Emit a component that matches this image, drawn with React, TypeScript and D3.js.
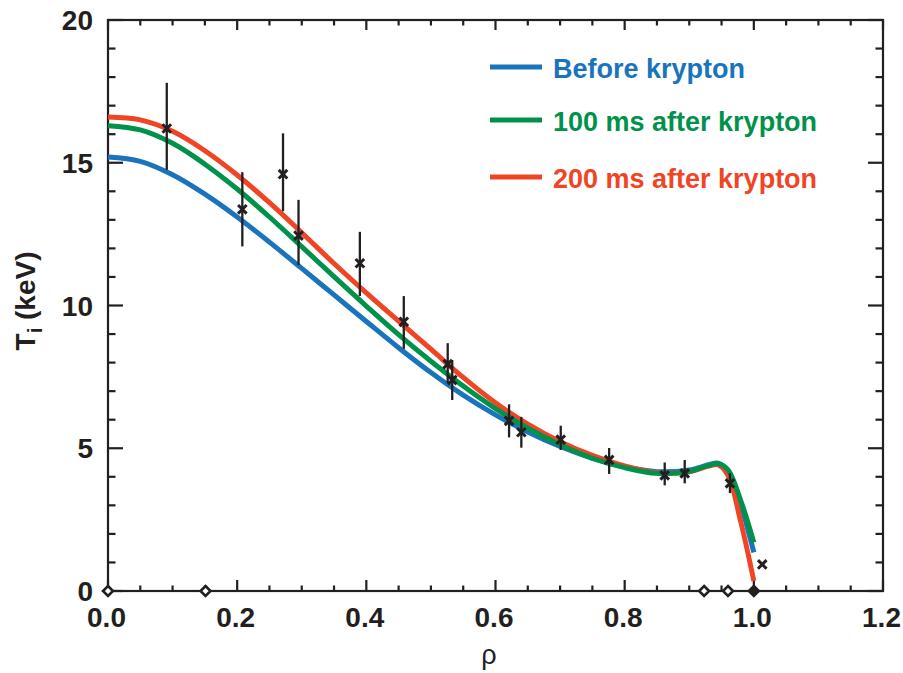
import React from "react";
import * as d3 from "d3";

// Radial grid (normalised minor radius) shared by the three fitted profiles
const rhoGrid = [0, 0.05, 0.1, 0.15, 0.2, 0.25, 0.3, 0.35, 0.4, 0.45, 0.5, 0.55, 0.6, 0.65, 0.7, 0.75, 0.8, 0.85, 0.9, 0.93, 0.945, 0.96, 0.98, 1.0];

// Ion temperature profiles, keV
const tiBefore = [15.2, 15.05, 14.58, 13.9, 13.1, 12.22, 11.3, 10.37, 9.44, 8.52, 7.65, 6.86, 6.17, 5.57, 5.06, 4.65, 4.35, 4.18, 4.24, 4.42, 4.48, 4.2, 3.0, 1.35];
const tiAfter100 = [16.3, 16.15, 15.68, 14.95, 14.08, 13.1, 12.06, 11.01, 9.98, 8.98, 8.05, 7.18, 6.39, 5.7, 5.12, 4.65, 4.32, 4.12, 4.19, 4.4, 4.46, 4.24, 3.15, 1.7];
const tiAfter200 = [16.6, 16.5, 16.1, 15.42, 14.57, 13.6, 12.55, 11.47, 10.44, 9.45, 8.47, 7.48, 6.59, 5.84, 5.23, 4.75, 4.38, 4.14, 4.18, 4.38, 4.42, 4.05, 2.4, 0.35];

// Measured ion temperatures with error bars
const measRho = [0.091, 0.208, 0.271, 0.295, 0.39, 0.458, 0.526, 0.533, 0.621, 0.64, 0.701, 0.776, 0.862, 0.893, 0.963, 1.013];
const measTi = [16.2, 13.37, 14.6, 12.45, 11.48, 9.43, 7.95, 7.39, 5.96, 5.56, 5.3, 4.59, 4.05, 4.12, 3.77, 0.93];
const measErrUp = [1.6, 1.3, 1.43, 1.25, 1.1, 0.9, 0.73, 0.7, 0.58, 0.54, 0.49, 0.42, 0.45, 0.47, 0.36, 0];
const measErrDown = [1.45, 1.3, 1.3, 1.03, 1.15, 0.95, 0.67, 0.7, 0.58, 0.54, 0.36, 0.49, 0.35, 0.35, 0.34, 0];

// Diagnostic channel positions marked on the axis
const channelRho = [0, 0.151, 0.923, 0.96, 1.0];
const channelFilled = [false, false, false, false, true];

const xMajor = [0, 0.2, 0.4, 0.6, 0.8, 1.0, 1.2];
const xMajorLabels = ["0.0", "0.2", "0.4", "0.6", "0.8", "1.0", "1.2"];
const yMajor = [0, 5, 10, 15, 20];
const yMajorLabels = ["0", "5", "10", "15", "20"];

const seriesNames = ["Before krypton", "100 ms after krypton", "200 ms after krypton"];
const seriesColors = ["#1a74bd", "#00924a", "#ef4525"];

const W = 903;
const H = 673;
const left = 108;
const right = 883;
const top = 20;
const bottom = 591;

const FONT = "'Liberation Sans', Arial, Helvetica, sans-serif";

export default function App() {
  const x = d3.scaleLinear().domain([0, 1.2]).range([left, right]);
  const y = d3.scaleLinear().domain([0, 20]).range([bottom, top]);

  const line = d3
    .line<[number, number]>()
    .x((d) => x(d[0]))
    .y((d) => y(d[1]))
    .curve(d3.curveCatmullRom.alpha(0.5));

  const profiles = [tiBefore, tiAfter100, tiAfter200];
  const drawOrder = [0, 2, 1];

  const xMinor = d3.range(0, 1.2001, 0.05).filter((v) => Math.abs(v / 0.2 - Math.round(v / 0.2)) > 1e-6);
  const yMinor = d3.range(0, 20.001, 1).filter((v) => v % 5 !== 0);

  const axisColor = "#231f20";

  return (
    <svg width={W} height={H} style={{ position: "absolute", left: 0, top: 0, background: "#fff" }}>
      <rect x={0} y={0} width={W} height={H} fill="#fff" />

      {/* frame */}
      <rect x={left} y={top} width={right - left} height={bottom - top} fill="none" stroke={axisColor} strokeWidth={2.2} />

      {/* bottom and top ticks */}
      {xMajor.map((v) => (
        <g key={"xm" + v}>
          <line x1={x(v)} x2={x(v)} y1={bottom} y2={bottom - 11} stroke={axisColor} strokeWidth={2.2} />
          <line x1={x(v)} x2={x(v)} y1={top} y2={top + 10} stroke={axisColor} strokeWidth={2.2} />
        </g>
      ))}
      {xMinor.map((v) => (
        <g key={"xn" + v}>
          <line x1={x(v)} x2={x(v)} y1={bottom} y2={bottom - 5.5} stroke={axisColor} strokeWidth={2.2} />
          <line x1={x(v)} x2={x(v)} y1={top} y2={top + 5.5} stroke={axisColor} strokeWidth={2.2} />
        </g>
      ))}

      {/* left and right ticks */}
      {yMajor.map((v) => (
        <g key={"ym" + v}>
          <line x1={left} x2={left + 15} y1={y(v)} y2={y(v)} stroke={axisColor} strokeWidth={2.2} />
          <line x1={right} x2={right - 15} y1={y(v)} y2={y(v)} stroke={axisColor} strokeWidth={2.2} />
        </g>
      ))}
      {yMinor.map((v) => (
        <g key={"yn" + v}>
          <line x1={left} x2={left + 7.5} y1={y(v)} y2={y(v)} stroke={axisColor} strokeWidth={2.2} />
          <line x1={right} x2={right - 7.5} y1={y(v)} y2={y(v)} stroke={axisColor} strokeWidth={2.2} />
        </g>
      ))}

      {/* tick labels */}
      {xMajor.map((v, i) => (
        <text key={"xl" + v} x={x(v) - 1.5} y={627} textAnchor="middle" fontFamily={FONT} fontWeight="bold" fontSize={28} fill={axisColor}>
          {xMajorLabels[i]}
        </text>
      ))}
      {yMajor.map((v, i) => (
        <text key={"yl" + v} x={93} y={y(v) + 10} textAnchor="end" fontFamily={FONT} fontWeight="bold" fontSize={28} fill={axisColor}>
          {yMajorLabels[i]}
        </text>
      ))}

      {/* axis titles */}
      <text x={489} y={664} textAnchor="middle" fontFamily={FONT} fontSize={27} fill={axisColor}>
        ρ
      </text>
      <text transform="translate(35,301) rotate(-90)" textAnchor="middle" fontFamily={FONT} fontWeight="bold" fontSize={28} fill={axisColor}>
        T
        <tspan fontSize={20} dy={7}>
          i
        </tspan>
        <tspan dy={-7}> (keV)</tspan>
      </text>

      {/* profiles */}
      {drawOrder.map((s) => (
        <path
          key={"p" + s}
          d={line(rhoGrid.map((r, i) => [r, profiles[s][i]] as [number, number])) || ""}
          fill="none"
          stroke={seriesColors[s]}
          strokeWidth={5}
          strokeLinecap="butt"
        />
      ))}

      {/* measurements */}
      {measRho.map((r, i) => {
        const cx = x(r);
        const cy = y(measTi[i]);
        const m = 4.3;
        return (
          <g key={"m" + i} stroke={axisColor}>
            {measErrUp[i] + measErrDown[i] > 0 && (
              <line x1={cx} x2={cx} y1={y(measTi[i] + measErrUp[i])} y2={y(measTi[i] - measErrDown[i])} strokeWidth={2.3} />
            )}
            <line x1={cx - m} x2={cx + m} y1={cy - m} y2={cy + m} strokeWidth={3} />
            <line x1={cx - m} x2={cx + m} y1={cy + m} y2={cy - m} strokeWidth={3} />
          </g>
        );
      })}

      {/* channel markers on the axis */}
      {channelRho.map((r, i) => {
        const cx = x(r);
        const s = 5;
        return (
          <path
            key={"c" + i}
            d={`M${cx},${bottom - s} L${cx + s},${bottom} L${cx},${bottom + s} L${cx - s},${bottom} Z`}
            fill={channelFilled[i] ? axisColor : "#fff"}
            stroke={axisColor}
            strokeWidth={2.6}
          />
        );
      })}

      {/* legend */}
      {seriesNames.map((name, i) => {
        const ly = [67, 120, 177][i];
        return (
          <g key={"lg" + i}>
            <line x1={490} x2={542} y1={ly} y2={ly} stroke={seriesColors[i]} strokeWidth={5} />
            <text x={553} y={ly + 10.5} fontFamily={FONT} fontWeight="bold" fontSize={27} fill={seriesColors[i]}>
              {name}
            </text>
          </g>
        );
      })}
    </svg>
  );
}
